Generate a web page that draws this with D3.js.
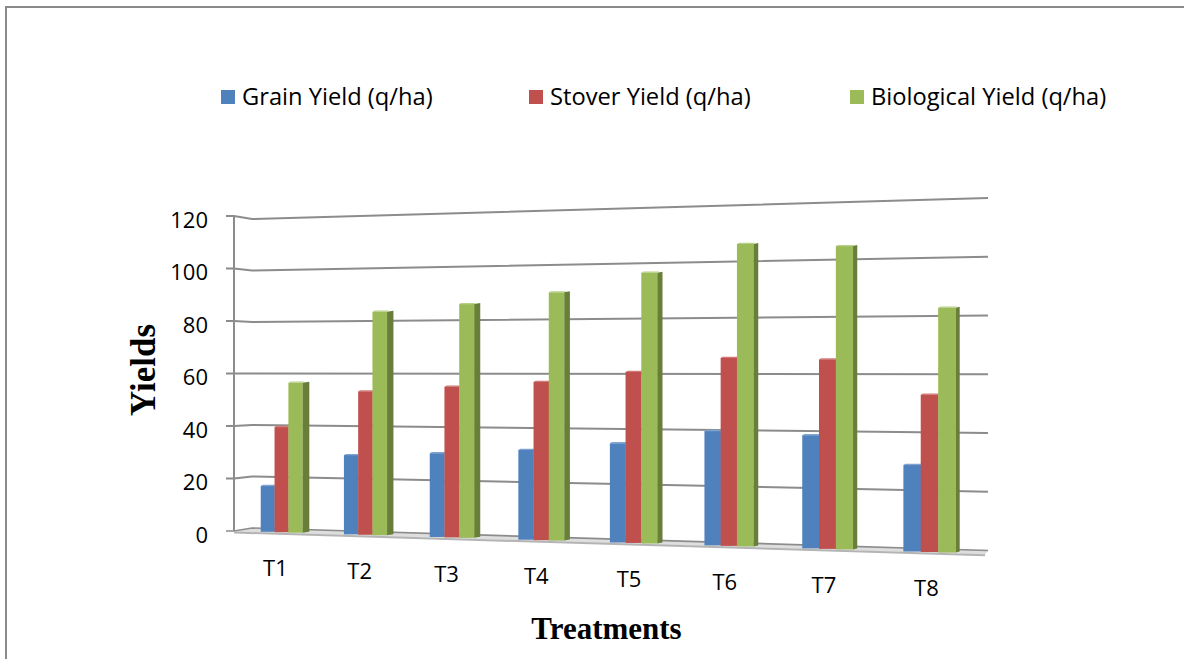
<!DOCTYPE html>
<html>
<head>
<meta charset="utf-8">
<script src="https://cdn.jsdelivr.net/npm/d3@7"></script>
<style>
  html, body { margin: 0; padding: 0; background: #fff; }
  svg { display: block; }
</style>
</head>
<body>
<svg id="chart" width="1184" height="659"></svg>
<script>
// ---- data ----
const categories = ["T1", "T2", "T3", "T4", "T5", "T6", "T7", "T8"];
const seriesNames = ["Grain Yield (q/ha)", "Stover Yield (q/ha)", "Biological Yield (q/ha)"];
const grainYield = [17.7, 30.2, 31.4, 33.1, 36.0, 40.8, 39.7, 29.8];
const stoverYield = [40.6, 54.5, 56.4, 58.2, 61.9, 66.9, 66.3, 54.1];
const biologicalYield = [57.7, 84.7, 87.2, 91.1, 97.7, 107.3, 105.8, 83.9];
const yTicks = [0, 20, 40, 60, 80, 100, 120];
const yTitle = "Yields";
const xTitle = "Treatments";

// ---- styling ----
const seriesColors = ["#4F81BD", "#C0504D", "#9BBB59"];
const seriesTops = ["#7fa2d0", "#d27d7a", "#b7cf86"];
const sideColor = "#687E3A";
const gridColor = "#8c8c8c";
const labelFont = "'Open Sans', 'DejaVu Sans', sans-serif";
const titleFont = "'Liberation Serif', 'Times New Roman', serif";

const series = [grainYield, stoverYield, biologicalYield];
const svg = d3.select("#chart");

// ---- perspective frame ----
// Value scales along the three vertical edges of the walls
const yMax = 120;
const wall = { outer: 234, corner: 252, right: 988 };
const yOuter = d3.scaleLinear().domain([0, yMax]).range([531, 216]);
const yCorner = d3.scaleLinear().domain([0, yMax]).range([528, 219]);
const yRight = d3.scaleLinear().domain([0, yMax]).range([550.5, 198]);
const tBack = d3.scaleLinear().domain([wall.corner, wall.right]).range([0, 1]);
const yBack = (v, x) => d3.interpolateNumber(yCorner(v), yRight(v))(tBack(x));
const frontOffset = 3.3; // bars stand slightly in front of the back wall

// Horizontal placement: bands in depth-free units, warped by perspective
const band = d3.scaleBand().domain(categories).range([0, 1])
  .paddingInner(0.496).paddingOuter(0.248);
const inner = d3.scaleBand().domain(d3.range(series.length)).range([0, band.bandwidth()]);
const q = 1.14;
const warp = u => u / (u + q * (1 - u));
const xScreen = d3.scaleLinear().domain([0, 1]).range([240.5, 981.8]);
const px = u => xScreen(warp(u));
const sideWidth = d3.scaleLinear().domain([300, 955]).range([7, 4]);
const labelShift = d3.scaleLinear().domain([280, 930]).range([6, 3]);

// ---- outer frame ----
svg.append("rect")
  .attr("x", 6).attr("y", 7).attr("width", 1200).attr("height", 700)
  .attr("fill", "none").attr("stroke", "#8a8a8a").attr("stroke-width", 2);

// ---- gridlines (left wall + back wall) ----
const grid = svg.append("g").attr("fill", "none").attr("stroke", gridColor).attr("stroke-width", 2);
yTicks.forEach(v => {
  if (v === 0) return;
  grid.append("polyline")
    .attr("points", [[wall.outer - 8, yOuter(v)], [wall.outer, yOuter(v)],
                     [wall.corner, yCorner(v)], [wall.right, yRight(v)]].join(" "));
});

// ---- floor ----
const floorFront = x => yBack(0, x) + frontOffset + 0.8;
svg.append("polygon")
  .attr("points", [[wall.outer, yOuter(0) + 1], [wall.corner, yCorner(0)],
                   [wall.right, yRight(0)], [wall.right - 3, floorFront(wall.right - 3)]].join(" "))
  .attr("fill", "#dedede").attr("stroke", "none");
svg.append("line")
  .attr("x1", wall.outer).attr("y1", yOuter(0) + 1.5)
  .attr("x2", wall.right - 3).attr("y2", floorFront(wall.right - 3) + 0.8)
  .attr("stroke", "#b4b4b4").attr("stroke-width", 2);
svg.append("polyline")
  .attr("points", [[wall.outer - 8, yOuter(0)], [wall.outer, yOuter(0)],
                   [wall.corner, yCorner(0)], [wall.right, yRight(0)]].join(" "))
  .attr("fill", "none").attr("stroke", gridColor).attr("stroke-width", 1.6);

// vertical axis line
svg.append("line")
  .attr("x1", wall.outer).attr("x2", wall.outer)
  .attr("y1", yOuter(0)).attr("y2", yOuter(yMax))
  .attr("stroke", gridColor).attr("stroke-width", 2);

// ---- bars ----
const bars = svg.append("g");
categories.forEach((cat, i) => {
  series.forEach((vals, j) => {
    const u0 = band(cat) + inner(j);
    const u1 = u0 + inner.bandwidth();
    const x0 = px(u0), x1 = px(u1);
    const xc = (x0 + x1) / 2;
    const base = yBack(0, xc) + frontOffset;
    const top = yBack(vals[i], xc) + frontOffset;
    const s = sideWidth(x1);
    if (j === series.length - 1) {
      bars.append("polygon")
        .attr("points", [[x1, top], [x1 + s, top - 1], [x1 + s, base - 1], [x1, base]].join(" "))
        .attr("fill", sideColor);
    }
    bars.append("polygon")
      .attr("points", [[x0, top], [x0 + 2, top - 1.2], [x1 + 2, top - 1.2], [x1, top]].join(" "))
      .attr("fill", seriesTops[j]);
    bars.append("rect")
      .attr("x", x0).attr("y", top)
      .attr("width", x1 - x0 + 0.3).attr("height", base - top)
      .attr("fill", seriesColors[j]);
  });
});

// ---- y tick labels ----
svg.append("g").selectAll("text").data(yTicks).join("text")
  .attr("x", 208).attr("y", d => yOuter(d) + 2.5)
  .attr("text-anchor", "end").attr("dominant-baseline", "central")
  .attr("font-family", labelFont).attr("font-size", 22).attr("fill", "#000")
  .text(d => d);

// ---- category labels ----
svg.append("g").selectAll("text").data(categories).join("text")
  .each(function (cat) {
    const xc = px(band(cat) + band.bandwidth() / 2);
    d3.select(this)
      .attr("x", xc - labelShift(xc))
      .attr("y", yBack(0, xc) + 38.5);
  })
  .attr("text-anchor", "middle").attr("dominant-baseline", "central")
  .attr("font-family", labelFont).attr("font-size", 22).attr("fill", "#000")
  .text(d => d);

// ---- axis titles ----
svg.append("text")
  .attr("transform", "translate(155,370) rotate(-90)")
  .attr("text-anchor", "middle")
  .attr("font-family", titleFont).attr("font-weight", "bold").attr("font-size", 35)
  .text(yTitle);
svg.append("text")
  .attr("x", 606.5).attr("y", 639)
  .attr("text-anchor", "middle")
  .attr("font-family", titleFont).attr("font-weight", "bold").attr("font-size", 31)
  .text(xTitle);

// ---- legend ----
const legendX = [221, 529, 850];
const legend = svg.append("g").selectAll("g").data(seriesNames).join("g")
  .attr("transform", (d, k) => `translate(${legendX[k]},0)`);
legend.append("rect")
  .attr("x", 0).attr("y", 90).attr("width", 14).attr("height", 14)
  .attr("fill", (d, k) => seriesColors[k]);
legend.append("text")
  .attr("x", 21).attr("y", 105)
  .attr("font-family", labelFont).attr("font-size", 23.7).attr("fill", "#000")
  .text(d => d);
</script>
</body>
</html>
